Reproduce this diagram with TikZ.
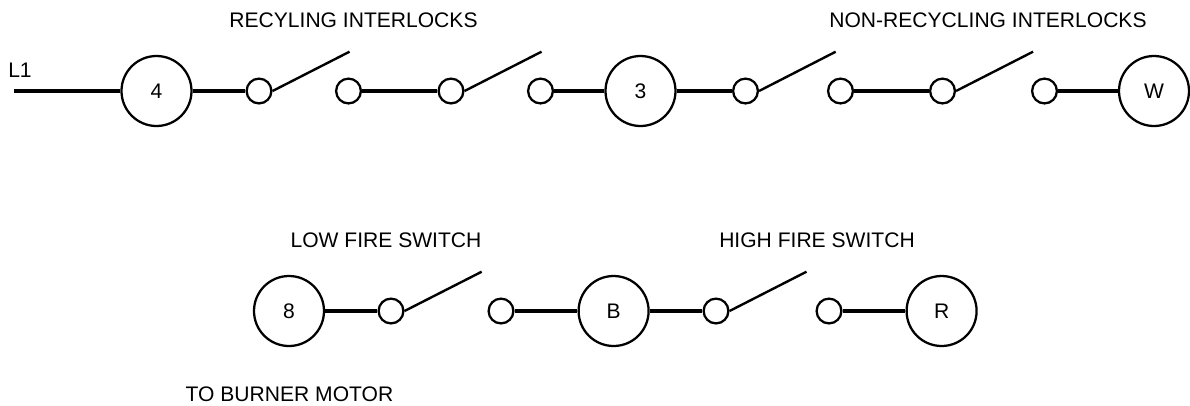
\documentclass[tikz,border=0pt]{standalone}
\usepackage{fontspec}
\setmainfont{Liberation Sans}
\tikzstyle{relay} = [draw=black, circle, line width=1.7pt, minimum size=52.5pt, inner sep=0pt, font=\fontsize{15.8pt}{18pt}\selectfont]
\tikzstyle{contact} = [draw=black, circle, line width=1.7pt, minimum size=18.6pt, inner sep=0pt]
\tikzstyle{wire} = [draw=black, line width=2.5pt]
\tikzstyle{blade} = [draw=black, line width=1.8pt]
\tikzstyle{caption} = [inner sep=0pt, font=\fontsize{15.8pt}{18pt}\selectfont]

\begin{document}
\begin{tikzpicture}[x=0.75pt, y=-0.75pt]
        \useasboundingbox (0,0) rectangle (1190,405);
        % top rung
        \coordinate (start) at (14,91);
        \node [relay] (four) at (156.5,91) {4};
        \node [contact] (a1) at (259,91) {};
        \node [contact] (a2) at (348.5,91) {};
        \node [contact] (b1) at (451,91) {};
        \node [contact] (b2) at (540.5,91) {};
        \node [relay] (three) at (640.5,91) {3};
        \node [contact] (c1) at (745.5,91) {};
        \node [contact] (c2) at (840.5,91) {};
        \node [contact] (d1) at (942.5,91) {};
        \node [contact] (d2) at (1044.5,91) {};
        \node [relay] (w) at (1154,91) {W};
        \coordinate (a3) at (349.5,51.7);
        \coordinate (b3) at (541.5,51.7);
        \coordinate (c3) at (835.7,51.7);
        \coordinate (d3) at (1033,51.7);
        \draw [wire] (start) -- (four);
        \draw [wire] (four) -- (a1);
        \draw [wire] (a2) -- (b1);
        \draw [wire] (b2) -- (three);
        \draw [wire] (three) -- (c1);
        \draw [wire] (c2) -- (d1);
        \draw [wire] (d2) -- (w);
        \draw [blade] (a1.east) -- (a3);
        \draw [blade] (b1.east) -- (b3);
        \draw [blade] (c1.east) -- (c3);
        \draw [blade] (d1.east) -- (d3);
        % bottom rung
        \node [relay] (eight) at (289,311) {8};
        \node [contact] (e1) at (391,311) {};
        \node [contact] (e2) at (501,311) {};
        \node [relay] (b) at (613.6,311) {B};
        \node [contact] (f1) at (716,311) {};
        \node [contact] (f2) at (829,311) {};
        \node [relay] (r) at (941.6,311) {R};
        \coordinate (e3) at (481.7,271.7);
        \coordinate (f3) at (806.5,271.7);
        \draw [wire] (eight) -- (e1);
        \draw [wire] (e2) -- (b);
        \draw [wire] (b) -- (f1);
        \draw [wire] (f2) -- (r);
        \draw [blade] (e1.east) -- (e3);
        \draw [blade] (f1.east) -- (f3);
        % labels
        \node [caption] (lone) at (20,70) {L1};
        \node [caption] (recyling) at (353.5,20) {RECYLING INTERLOCKS};
        \node [caption] (nonrecycling) at (988,20) {NON-RECYCLING INTERLOCKS};
        \node [caption] (lowfire) at (386,240) {LOW FIRE SWITCH};
        \node [caption] (highfire) at (817,240) {HIGH FIRE SWITCH};
        \node [caption] (burner) at (289.5,394) {TO BURNER MOTOR};
    \end{tikzpicture}
\end{document}
